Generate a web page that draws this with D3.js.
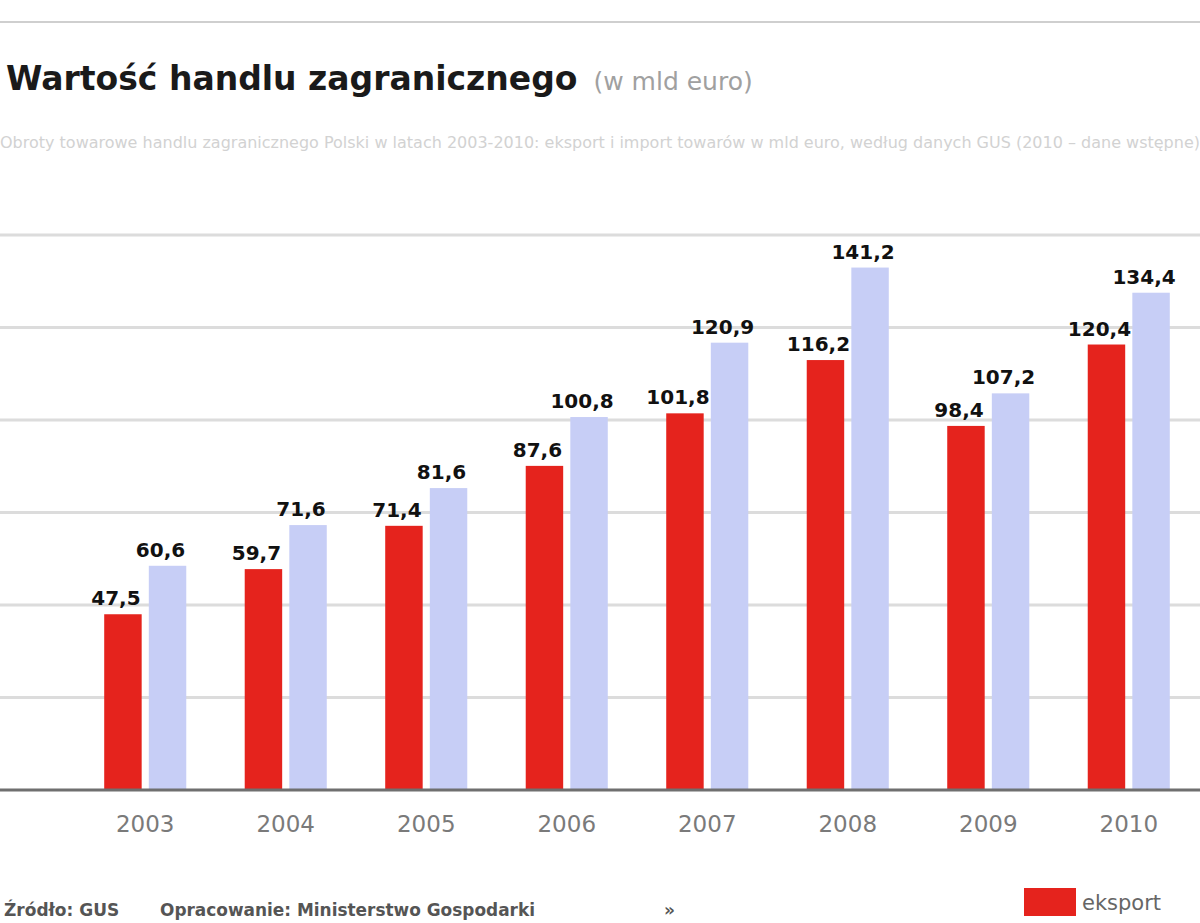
<!DOCTYPE html>
<html>
<head>
<meta charset="utf-8">
<script src="https://cdn.jsdelivr.net/npm/d3@7"></script>
<style>
    body { margin: 0; background: #fff; }
    #chart { width: 1200px; height: 923px; overflow: hidden; }
</style>
</head>
<body>
<div id="chart"></div>
<script>
// Data (mld euro)
var years = ["2003", "2004", "2005", "2006", "2007", "2008", "2009", "2010"];
var seriesNames = ["eksport", "import"];
var exportValues = [47.5, 59.7, 71.4, 87.6, 101.8, 116.2, 98.4, 120.4];
var importValues = [60.6, 71.6, 81.6, 100.8, 120.9, 141.2, 107.2, 134.4];
var yTicks = [0, 25, 50, 75, 100, 125, 150];

var colors = { eksport: "#e5231d", import: "#c7cef6" };

//Define SVG area
var svgWidth = 1200;
var svgHeight = 923;

var svg = d3.select("#chart")
    .append("svg")
    .attr("width", svgWidth)
    .attr("height", svgHeight);

//Build rows from the arrays
var rows = years.map(function(y, i) {
    return { year: y, eksport: exportValues[i], import: importValues[i] };
});

//Scales
var xScale = d3.scaleBand()
    .domain(years)
    .range([74, 1200])
    .paddingInner(0.416)
    .paddingOuter(0.215);

var xInner = d3.scaleBand()
    .domain(seriesNames)
    .range([0, xScale.bandwidth()])
    .paddingInner(0.16);

var yScale = d3.scaleLinear()
    .domain([0, 150])
    .range([790, 235]);

var fontFamily = "'DejaVu Sans', Arial, sans-serif";

//Top rule
svg.append("line")
    .attr("x1", 0).attr("x2", svgWidth)
    .attr("y1", 22).attr("y2", 22)
    .attr("stroke", "#cfcfcf")
    .attr("stroke-width", 2);

//Title
var title = svg.append("text")
    .attr("x", 6)
    .attr("y", 90)
    .attr("font-family", fontFamily);

title.append("tspan")
    .attr("font-size", 33)
    .attr("font-weight", "bold")
    .attr("fill", "#1a1a1a")
    .text("Wartość handlu zagranicznego");

title.append("tspan")
    .attr("dx", 16)
    .attr("font-size", 25)
    .attr("fill", "#a0a0a0")
    .text("(w mld euro)");

//Subtitle
svg.append("text")
    .attr("x", 0)
    .attr("y", 148)
    .attr("font-family", fontFamily)
    .attr("font-size", 15)
    .attr("fill", "#d2d2d2")
    .attr("textLength", 1200)
    .attr("lengthAdjust", "spacingAndGlyphs")
    .text("Obroty towarowe handlu zagranicznego Polski w latach 2003-2010: eksport i import towarów w mld euro, według danych GUS (2010 – dane wstępne)");

//Gridlines
svg.append("g")
    .selectAll("line")
    .data(yTicks.filter(function(d) { return d > 0; }))
    .enter()
    .append("line")
    .attr("x1", 0)
    .attr("x2", svgWidth)
    .attr("y1", function(d) { return yScale(d); })
    .attr("y2", function(d) { return yScale(d); })
    .attr("stroke", "#dcdcdc")
    .attr("stroke-width", 3);

//Bars
var groups = svg.append("g")
    .selectAll("g")
    .data(rows)
    .enter()
    .append("g")
    .attr("transform", function(d) { return "translate(" + xScale(d.year) + ",0)"; });

groups.selectAll("rect")
    .data(function(d) { return seriesNames.map(function(s) { return { key: s, value: d[s] }; }); })
    .enter()
    .append("rect")
    .attr("x", function(d) { return xInner(d.key); })
    .attr("y", function(d) { return yScale(d.value); })
    .attr("width", xInner.bandwidth())
    .attr("height", function(d) { return yScale(0) - yScale(d.value); })
    .attr("fill", function(d) { return colors[d.key]; });

//Value labels
groups.selectAll("text")
    .data(function(d) { return seriesNames.map(function(s) { return { key: s, value: d[s] }; }); })
    .enter()
    .append("text")
    .attr("x", function(d) { return xInner(d.key) + xInner.bandwidth() / 2 - 7; })
    .attr("y", function(d) { return yScale(d.value) - 9; })
    .attr("text-anchor", "middle")
    .attr("font-family", fontFamily)
    .attr("font-size", 20)
    .attr("font-weight", "bold")
    .attr("fill", "#111")
    .text(function(d) { return d3.format(".1f")(d.value).replace(".", ","); });

//Baseline
svg.append("line")
    .attr("x1", 0).attr("x2", svgWidth)
    .attr("y1", yScale(0)).attr("y2", yScale(0))
    .attr("stroke", "#6f6f6f")
    .attr("stroke-width", 3);

//X axis labels
var xAxis = d3.axisBottom(xScale).tickSize(0).tickPadding(0);
var xAxisGroup = svg.append("g")
    .attr("transform", "translate(0," + (yScale(0) + 26) + ")")
    .call(xAxis);

xAxisGroup.select(".domain").remove();
xAxisGroup.selectAll("text")
    .attr("font-family", fontFamily)
    .attr("font-size", 23)
    .attr("fill", "#7a7a7a");

//Footer
svg.append("text")
    .attr("x", 4)
    .attr("y", 916)
    .attr("font-family", fontFamily)
    .attr("font-size", 17)
    .attr("font-weight", "bold")
    .attr("fill", "#555")
    .text("Źródło: GUS");

svg.append("text")
    .attr("x", 160)
    .attr("y", 916)
    .attr("font-family", fontFamily)
    .attr("font-size", 17)
    .attr("font-weight", "bold")
    .attr("fill", "#555")
    .attr("textLength", 375)
    .attr("lengthAdjust", "spacingAndGlyphs")
    .text("Opracowanie: Ministerstwo Gospodarki");

svg.append("text")
    .attr("x", 664)
    .attr("y", 916)
    .attr("font-family", fontFamily)
    .attr("font-size", 17)
    .attr("font-weight", "bold")
    .attr("fill", "#555")
    .text("»");

//Legend (only the first item fits inside the frame)
var legend = svg.append("g")
    .attr("transform", "translate(1024,888)");

legend.append("rect")
    .attr("width", 52)
    .attr("height", 28)
    .attr("fill", colors[seriesNames[0]]);

legend.append("text")
    .attr("x", 58)
    .attr("y", 22)
    .attr("font-family", fontFamily)
    .attr("font-size", 21)
    .attr("fill", "#666")
    .text(seriesNames[0]);
</script>
</body>
</html>
